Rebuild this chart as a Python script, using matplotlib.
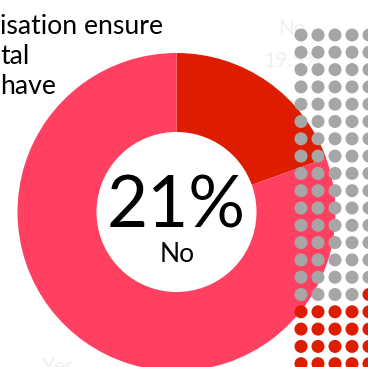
import matplotlib.pyplot as plt

# Donut: share of answers (slice as drawn), and the waffle counts
donut_labels = ['No', 'Yes']
donut_values = [19.5, 80.5]
donut_colors = ['#dd1c00', '#ff4060']

waffle_labels = ['Yes', 'No']
waffle_counts = [79, 21]
waffle_colors = ['#a6a6a6', '#dd1c00']

title_lines = ['isation ensure', 'tal', 'have']
center_value = '21%'
center_label = 'No'

W, H = 368, 367
fig = plt.figure(figsize=(W / 100, H / 100), dpi=100)
ax = fig.add_axes([0, 0, 1, 1])
ax.set_xlim(0, W)
ax.set_ylim(0, H)
ax.axis('off')

# faint labels sitting behind the dots
ax.text(292, H - 35, 'No', fontsize=15, family='Lato', color='#f0f0f0',
        ha='center', va='baseline')
ax.text(292, H - 67, '19.5%', fontsize=15, family='Lato', color='#f0f0f0',
        ha='center', va='baseline')
ax.text(42, H - 373, 'Yes', fontsize=15, family='Lato', color='#f0f0f0',
        ha='left', va='baseline')

# donut
ax.pie(donut_values, colors=donut_colors, startangle=90, counterclock=False,
       center=(176.5, H - 212), radius=159,
       wedgeprops=dict(width=79, linewidth=0))
ax.set_xlim(0, W)
ax.set_ylim(0, H)
ax.set_aspect('equal')

ax.text(176.5, H - 228, center_value, fontsize=51, family='Lato',
        ha='center', va='baseline')
ax.text(177, H - 262, center_label, fontsize=19, family='Lato',
        ha='center', va='baseline')

# waffle grid, filled row by row
n_cols = 5
xs, ys, cs = [], [], []
i = 0
for count, color in zip(waffle_counts, waffle_colors):
    for _ in range(count):
        r, c = divmod(i, n_cols)
        xs.append(301 + c * 17.0)
        ys.append(H - (35 + r * 17.3))
        cs.append(color)
        i += 1
ax.scatter(xs, ys, c=cs, s=88, edgecolors='none', zorder=5)

# cropped title
for k, line in enumerate(title_lines):
    ax.text(0, H - (34 + k * 30), line, fontsize=19.2, family='Lato',
            ha='left', va='baseline')

fig.savefig('out.png', dpi=100)
